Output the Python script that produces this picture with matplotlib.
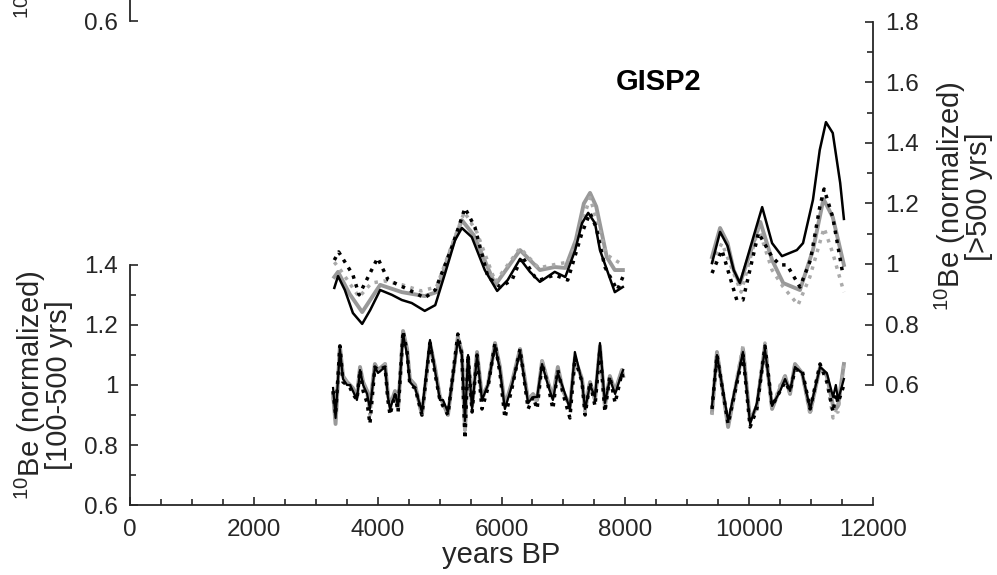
import numpy as np
import matplotlib
matplotlib.use('Agg')
import matplotlib.pyplot as plt
from matplotlib.ticker import MultipleLocator, FuncFormatter

plt.rcParams['font.family'] = ['Liberation Sans', 'DejaVu Sans']
plt.rcParams['mathtext.fontset'] = 'custom'
plt.rcParams['mathtext.rm'] = 'Liberation Sans'

# ---- >500 yrs band (right axis) ----
top_bs_x1 = [3300, 3360, 3470, 3600, 3750, 3880, 4040, 4230, 4390, 4550, 4760, 4930, 5090, 5250, 5360,
             5520, 5730, 5930, 6100, 6300, 6460, 6620, 6860, 7030, 7190, 7300, 7400, 7510, 7590, 7830, 7960]
top_bs_y1 = [0.921, 0.960, 0.914, 0.838, 0.802, 0.848, 0.914, 0.898, 0.881, 0.871, 0.845, 0.864, 0.970, 1.079, 1.119,
             1.089, 0.980, 0.911, 0.947, 1.017, 0.974, 0.941, 0.974, 0.957, 1.046, 1.135, 1.169, 1.135, 1.046, 0.907, 0.924]
top_gs_x1 = [3300, 3360, 3550, 3750, 4040, 4390, 4760, 4950, 5150, 5360, 5550, 5900, 6300, 6620,
             6860, 7030, 7200, 7330, 7430, 7530, 7700, 7830, 7960]
top_gs_y1 = [0.957, 0.974, 0.90, 0.841, 0.931, 0.907, 0.894, 0.907, 1.03, 1.145, 1.096, 0.931, 1.046, 0.980,
             0.990, 0.987, 1.079, 1.20, 1.235, 1.19, 1.023, 0.980, 0.980]
top_bd_x1 = [3300, 3370, 3600, 3700, 4000, 4170, 4440, 4760, 4930, 5200, 5410, 5570, 5780, 5980,
             6170, 6330, 6540, 6620, 6860, 7070, 7300, 7430, 7530, 7670, 7870, 7960]
top_bd_y1 = [1.013, 1.040, 0.964, 0.898, 1.020, 0.947, 0.921, 0.888, 0.914, 1.056, 1.185, 1.122, 0.957, 0.924,
             0.947, 1.026, 0.957, 0.947, 0.964, 0.947, 1.103, 1.169, 1.12, 0.990, 0.914, 0.957]
top_gd_x1 = [3300, 3400, 3700, 3900, 4100, 4400, 4700, 4950, 5200, 5400, 5600, 5900, 6300, 6600,
             6900, 7100, 7430, 7700, 7960]
top_gd_y1 = [1.006, 0.980, 0.891, 0.937, 0.944, 0.931, 0.911, 0.924, 1.063, 1.172, 1.106, 0.941, 1.053, 0.987,
             1.0, 1.007, 1.22, 1.03, 0.997]

top_bs_x2 = [9400, 9530, 9650, 9750, 9850, 10210, 10370, 10530, 10770, 10870, 11030, 11140, 11240, 11350, 11470, 11530]
top_bs_y2 = [1.003, 1.106, 1.06, 0.98, 0.937, 1.188, 1.069, 1.026, 1.046, 1.069, 1.212, 1.377, 1.469, 1.433, 1.268, 1.149]
top_gs_x2 = [9400, 9530, 9650, 9750, 9850, 10180, 10370, 10550, 10820, 11030, 11200, 11350, 11530]
top_gs_y2 = [1.023, 1.119, 1.07, 0.98, 0.934, 1.139, 1.013, 0.937, 0.914, 1.046, 1.215, 1.155, 0.997]
top_bd_x2 = [9400, 9560, 9800, 9900, 10150, 10370, 10500, 10610, 10820, 10990, 11140, 11210, 11350, 11510]
top_bd_y2 = [0.970, 1.046, 0.881, 0.881, 1.103, 1.023, 0.997, 0.997, 0.924, 1.013, 1.188, 1.248, 1.155, 0.970]
top_gd_x2 = [9400, 9560, 9870, 10150, 10370, 10550, 10790, 10980, 11210, 11350, 11530]
top_gd_y2 = [1.003, 1.069, 0.907, 1.119, 0.980, 0.924, 0.865, 0.957, 1.119, 1.036, 0.907]

# ---- 100-500 yrs band (left axis) ----
bot_x1 = [3280, 3320, 3390, 3440, 3505, 3555, 3600, 3665, 3715, 3765, 3830, 3875, 3955, 4005, 4120, 4165,
          4200, 4280, 4330, 4410, 4475, 4520, 4605, 4715, 4845, 4925, 5005, 5055, 5135, 5295, 5360, 5410,
          5460, 5525, 5605, 5685, 5780, 5895, 5975, 6055, 6170, 6300, 6430, 6510, 6575, 6655, 6750, 6830,
          6910, 6995, 7105, 7185, 7300, 7350, 7430, 7510, 7590, 7670, 7750, 7835, 7945, 7965]
bot_gs_y1 = [0.97, 0.87, 1.13, 1.03, 1.01, 1.00, 0.99, 0.96, 1.06, 1.01, 0.98, 0.93, 1.07, 1.05, 1.07, 0.97,
             0.93, 0.98, 0.92, 1.18, 1.12, 1.02, 1.00, 0.90, 1.14, 1.06, 0.96, 0.94, 0.90, 1.16, 1.11, 0.85,
             1.09, 0.93, 1.11, 0.96, 1.00, 1.14, 1.06, 0.93, 1.01, 1.12, 0.95, 0.97, 0.95, 1.08, 1.01, 0.96,
             1.06, 0.98, 0.93, 1.09, 1.02, 0.92, 1.01, 0.95, 1.13, 0.93, 1.03, 0.98, 1.05, 1.03]
bot_bs_y1 = [0.99, 0.89, 1.12, 1.02, 1.00, 1.00, 0.98, 0.95, 1.05, 1.00, 0.97, 0.92, 1.06, 1.04, 1.06, 0.96,
             0.92, 0.97, 0.93, 1.17, 1.10, 1.01, 0.99, 0.91, 1.15, 1.05, 0.95, 0.95, 0.91, 1.15, 1.10, 0.88,
             1.10, 0.92, 1.10, 0.95, 1.00, 1.13, 1.05, 0.92, 1.00, 1.11, 0.94, 0.96, 0.96, 1.07, 1.00, 0.95,
             1.04, 0.99, 0.92, 1.11, 1.01, 0.92, 1.00, 0.96, 1.14, 0.94, 1.02, 0.97, 1.04, 1.05]
bot_bd_y1 = [0.98, 0.90, 1.13, 1.01, 1.00, 0.99, 0.97, 0.95, 1.05, 0.98, 0.94, 0.87, 1.06, 1.05, 1.06, 0.95,
             0.90, 0.97, 0.91, 1.18, 1.11, 1.00, 0.99, 0.90, 1.14, 1.04, 0.95, 0.93, 0.90, 1.17, 1.10, 0.82,
             1.10, 0.91, 1.10, 0.92, 0.99, 1.14, 1.04, 0.89, 0.99, 1.12, 0.92, 0.96, 0.92, 1.07, 1.00, 0.92,
             1.05, 0.97, 0.89, 1.09, 1.01, 0.90, 1.01, 0.93, 1.12, 0.91, 1.03, 0.94, 1.04, 1.02]
bot_gd_y1 = [0.96, 0.88, 1.12, 1.02, 1.01, 0.99, 0.98, 0.96, 1.05, 1.00, 0.97, 0.90, 1.07, 1.04, 1.07, 0.96,
             0.92, 0.97, 0.92, 1.16, 1.11, 1.02, 0.99, 0.90, 1.13, 1.05, 0.96, 0.94, 0.90, 1.15, 1.10, 0.84,
             1.09, 0.93, 1.10, 0.95, 1.00, 1.13, 1.05, 0.92, 1.00, 1.12, 0.94, 0.97, 0.94, 1.08, 1.01, 0.95,
             1.05, 0.98, 0.92, 1.08, 1.02, 0.91, 1.01, 0.95, 1.12, 0.93, 1.03, 0.97, 1.05, 1.04]

bot_x2 = [9400, 9480, 9660, 9900, 10015, 10125, 10255, 10370, 10500, 10580,
          10660, 10740, 10855, 10985, 11145, 11255, 11355, 11400, 11435, 11530]
bot_gs_y2 = [0.91, 1.11, 0.86, 1.12, 0.88, 0.93, 1.13, 0.92, 0.99, 1.03,
             0.97, 1.07, 1.04, 0.91, 1.06, 1.03, 0.93, 0.92, 0.93, 1.07]
bot_bs_y2 = [0.93, 1.10, 0.88, 1.11, 0.87, 0.94, 1.12, 0.93, 0.98, 1.02,
             0.98, 1.06, 1.04, 0.92, 1.06, 1.04, 0.96, 1.00, 0.95, 1.02]
bot_bd_y2 = [0.92, 1.10, 0.87, 1.10, 0.86, 0.92, 1.13, 0.93, 0.98, 1.01,
             0.98, 1.05, 1.05, 0.92, 1.07, 1.01, 0.91, 0.97, 0.94, 1.00]
bot_gd_y2 = [0.90, 1.11, 0.87, 1.13, 0.88, 0.93, 1.14, 0.92, 1.00, 1.03,
             0.97, 1.07, 1.04, 0.90, 1.07, 1.02, 0.89, 0.91, 0.91, 1.07]

TXT = '#262626'
FS = 17.5      # tick labels
LFS = 21       # axis labels
fmt = FuncFormatter(lambda v, p: '%g' % round(v, 2))

W, H = 997, 575
fig = plt.figure(figsize=(W / 100, H / 100), dpi=100)

def px_box(x0, y_top, x1, y_bot):
    return [x0 / W, 1 - y_bot / H, (x1 - x0) / W, (y_bot - y_top) / H]

def style(ax):
    ax.tick_params(which='both', direction='in', colors=TXT, labelsize=FS, width=1.2, pad=8.5)
    ax.tick_params(which='major', length=6)
    ax.tick_params(which='minor', length=4)
    for s in ax.spines.values():
        s.set_color(TXT)
        s.set_linewidth(1.3)

ylab_left = '$^{10}$Be (normalized)\n[100-500 yrs]'

# remnant of the panel above
ax0 = fig.add_axes(px_box(130, -220, 873, 21))
ax0.set_xlim(0, 12000)
ax0.set_ylim(0.6, 1.4)
for s in ['top', 'right', 'bottom']:
    ax0.spines[s].set_visible(False)
ax0.set_xticks([])
ax0.set_yticks([0.6])
ax0.yaxis.set_major_formatter(fmt)
style(ax0)
ax0.set_ylabel(ylab_left, fontsize=LFS, color=TXT, linespacing=0.85)
ax0.yaxis.set_label_coords(-0.077, 0.485)

# lower panel, left axis
ax = fig.add_axes(px_box(130, 265, 873, 505))
ax.set_xlim(0, 12000)
ax.set_ylim(0.6, 1.4)
ax.spines['top'].set_visible(False)
ax.spines['right'].set_visible(False)
ax.xaxis.set_major_locator(MultipleLocator(2000))
ax.xaxis.set_minor_locator(MultipleLocator(500))
ax.yaxis.set_major_locator(MultipleLocator(0.2))
ax.yaxis.set_minor_locator(MultipleLocator(0.1))
ax.yaxis.set_major_formatter(fmt)
style(ax)
ax.tick_params(axis='x', pad=10)
ax.set_xlabel('years BP', fontsize=LFS, color=TXT, labelpad=0)
ax.set_ylabel(ylab_left, fontsize=LFS, color=TXT, linespacing=0.85)
ax.yaxis.set_label_coords(-0.077, 0.5)

for xs, g_s, b_s, b_d, g_d in [(bot_x1, bot_gs_y1, bot_bs_y1, bot_bd_y1, bot_gd_y1),
                               (bot_x2, bot_gs_y2, bot_bs_y2, bot_bd_y2, bot_gd_y2)]:
    ax.plot(xs, g_s, color='#999999', lw=2.8, zorder=2)
    ax.plot(xs, g_d, color='#aaaaaa', lw=2.5, ls=':', zorder=3)
    ax.plot(xs, b_s, color='black', lw=1.6, zorder=4)
    ax.plot(xs, b_d, color='black', lw=2.5, ls=':', zorder=5)

# right axis (>500 yrs)
ax2 = fig.add_axes(px_box(130, 22, 873, 385))
ax2.patch.set_visible(False)
ax2.set_xlim(0, 12000)
ax2.set_ylim(0.6, 1.8)
for s in ['top', 'left', 'bottom']:
    ax2.spines[s].set_visible(False)
ax2.set_xticks([])
ax2.yaxis.tick_right()
ax2.yaxis.set_label_position('right')
ax2.yaxis.set_major_locator(MultipleLocator(0.2))
ax2.yaxis.set_minor_locator(MultipleLocator(0.1))
ax2.yaxis.set_major_formatter(fmt)
style(ax2)
ax2.set_ylabel('$^{10}$Be (normalized)\n[>500 yrs]', fontsize=LFS, color=TXT, linespacing=0.85)
ax2.yaxis.set_label_coords(1.081, 0.52)

for xs_gs, g_s, xs_gd, g_d, xs_bs, b_s, xs_bd, b_d in [
        (top_gs_x1, top_gs_y1, top_gd_x1, top_gd_y1, top_bs_x1, top_bs_y1, top_bd_x1, top_bd_y1),
        (top_gs_x2, top_gs_y2, top_gd_x2, top_gd_y2, top_bs_x2, top_bs_y2, top_bd_x2, top_bd_y2)]:
    ax2.plot(xs_gs, g_s, color='#999999', lw=2.8, zorder=2)
    ax2.plot(xs_gd, g_d, color='#aaaaaa', lw=2.5, ls=':', zorder=3)
    ax2.plot(xs_bs, b_s, color='black', lw=1.8, zorder=4)
    ax2.plot(xs_bd, b_d, color='black', lw=2.5, ls=':', zorder=5)

ax2.text(8540, 1.6, 'GISP2', fontsize=21, fontweight='bold', color='black',
         ha='center', va='center')

fig.savefig('out.png', dpi=100)
